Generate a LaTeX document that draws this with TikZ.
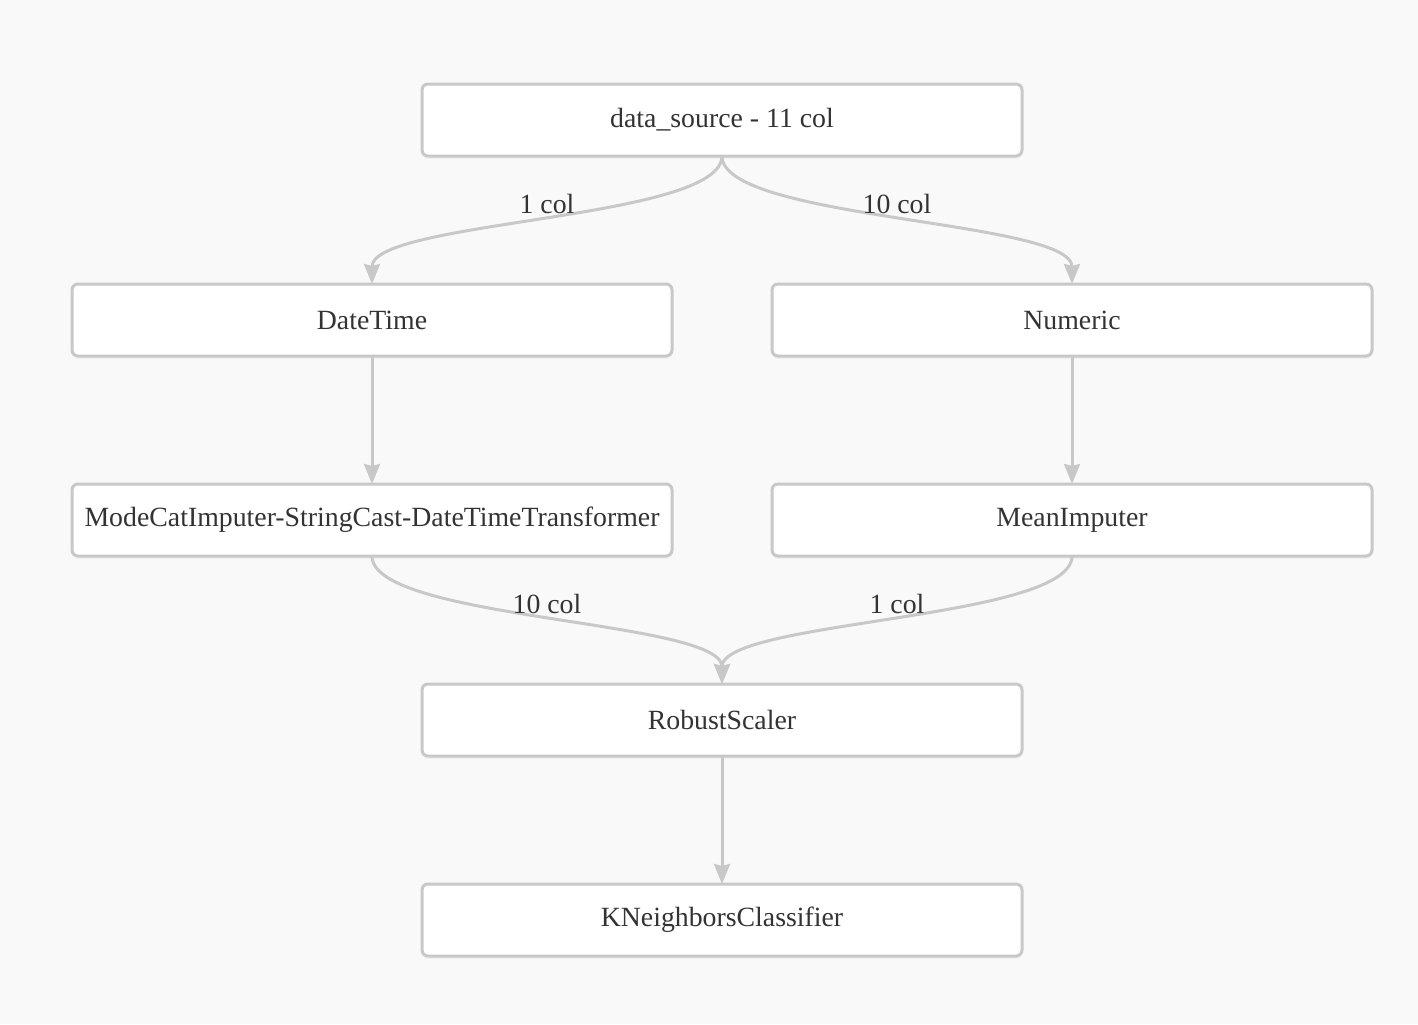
\documentclass[tikz,border=0pt]{standalone}
\usepackage{fontspec}
\setmainfont{Liberation Serif}
\usepackage{xcolor}
\usetikzlibrary{arrows.meta,positioning,shadows}
\definecolor{bgcol}{HTML}{F9F9F9}
\definecolor{edgecol}{HTML}{C8C8C8}
\definecolor{txtcol}{HTML}{333333}

\begin{document}
\begin{tikzpicture}[
  x=0.5pt, y=-0.5pt,
  font=\fontsize{13.9}{16}\selectfont,
  box/.style={draw=edgecol, fill=white, line width=1.5pt, rounded corners=3pt, minimum width=300pt, minimum height=36pt, outer sep=0pt, inner sep=2pt, text=txtcol, drop shadow={opacity=0.06, shadow xshift=0pt, shadow yshift=-1.5pt}},
  arr/.style={-{Stealth[length=10pt,width=8pt,inset=1pt]}, draw=edgecol, line width=1.5pt},
  lbl/.style={text=txtcol, yshift=8pt, inner sep=1pt},
]
\fill[bgcol] (0,0) rectangle (1418,1024);
\node[box] (src) at (722,120) {data\_source - 11 col};
\node[box, below left=64pt and -125pt of src] (dt) {DateTime};
\node[box, below right=64pt and -125pt of src] (num) {Numeric};
\node[box, below=64pt of dt] (mcdt) {ModeCatImputer-StringCast-DateTimeTransformer};
\node[box, below=64pt of num] (mean) {MeanImputer};
\node[box, below right=64pt and -125pt of mcdt] (rs) {RobustScaler};
\node[box, below=64pt of rs] (knn) {KNeighborsClassifier};
\draw[arr] (src.south) .. controls +(0,-32pt) and +(0,32pt) .. (dt.north) node[lbl, midway] {1 col};
\draw[arr] (src.south) .. controls +(0,-32pt) and +(0,32pt) .. (num.north) node[lbl, midway] {10 col};
\draw[arr] (dt) -- (mcdt);
\draw[arr] (num) -- (mean);
\draw[arr] (mcdt.south) .. controls +(0,-32pt) and +(0,32pt) .. (rs.north) node[lbl, midway] {10 col};
\draw[arr] (mean.south) .. controls +(0,-32pt) and +(0,32pt) .. (rs.north) node[lbl, midway] {1 col};
\draw[arr] (rs) -- (knn);
\end{tikzpicture}
\end{document}
